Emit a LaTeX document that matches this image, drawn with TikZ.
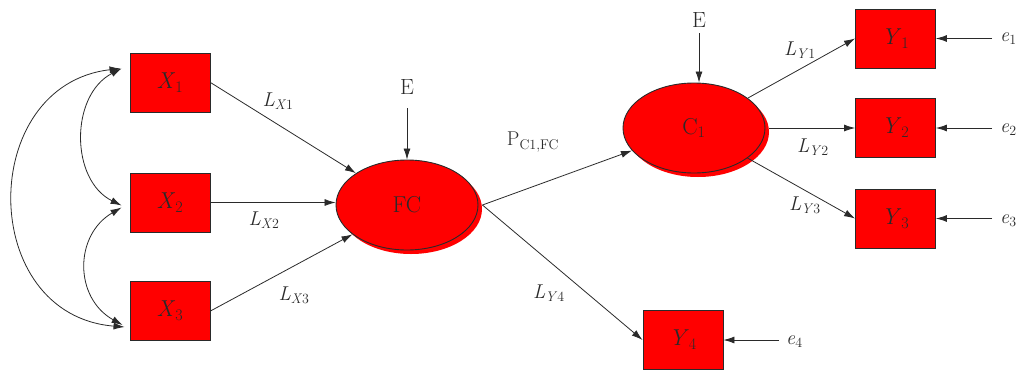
\documentclass[tikz,border=0pt]{standalone}
\usepackage{fontspec}
\usetikzlibrary{arrows.meta,shapes.geometric}
\definecolor{boxred}{HTML}{FF0000}
\definecolor{ink}{HTML}{2A2A2A}
\tikzset{
  obs/.style={draw=ink,line width=0.9pt,fill=boxred,minimum width=80pt,minimum height=59pt,inner sep=0pt,font=\fontsize{23}{26}\selectfont,text=ink},
  lat/.style={draw=ink,line width=0.9pt,fill=boxred,ellipse,minimum width=142pt,minimum height=90pt,inner sep=0pt,font=\fontsize{23}{26}\selectfont,text=ink},
  shad/.style={fill=boxred,ellipse,minimum width=142pt,minimum height=90pt,inner sep=0pt},
  lbl/.style={font=\fontsize{20}{24}\selectfont,text=ink,inner sep=1pt},
  arr/.style={draw=ink,line width=0.8pt,-{Latex[length=11pt,width=7pt]}},
  darr/.style={draw=ink,line width=0.8pt,{Latex[length=11pt,width=7pt]}-{Latex[length=11pt,width=7pt]}}
}
\begin{document}
\begin{tikzpicture}[x=1pt,y=-1pt]
\useasboundingbox (0,0) rectangle (1018,370);
% observed X
\node[obs] (X1) at (170,82.5) {\textit{X}\textsubscript{1}};
\node[obs] (X2) at (170,202.5) {\textit{X}\textsubscript{2}};
\node[obs] (X3) at (170,311) {\textit{X}\textsubscript{3}};
% latent
\node[shad] at (411,209) {};
\node[lat] (FC) at (407,205) {FC};
\node[shad] at (698,132) {};
\node[lat] (C1) at (694,128) {C\textsubscript{1}};
% Y boxes
\node[obs] (Y1) at (895.5,38.5) {\textit{Y}\textsubscript{1}};
\node[obs] (Y2) at (895.5,128) {\textit{Y}\textsubscript{2}};
\node[obs] (Y3) at (895.5,218.5) {\textit{Y}\textsubscript{3}};
\node[obs] (Y4) at (683,340) {\textit{Y}\textsubscript{4}};
% E and e
\node[lbl,font=\fontsize{22}{26}\selectfont] (E1) at (407,87) {E};
\node[lbl,font=\fontsize{22}{26}\selectfont] (E2) at (699,20) {E};
\node[lbl,anchor=west] (e1) at (999,39) {\textit{e}\textsubscript{1}};
\node[lbl,anchor=west] (e2) at (999,130) {\textit{e}\textsubscript{2}};
\node[lbl,anchor=west] (e3) at (999,221) {\textit{e}\textsubscript{3}};
\node[lbl,anchor=west] (e4) at (785,342) {\textit{e}\textsubscript{4}};
% free ends
\coordinate (E1s) at (407,108);
\coordinate (E2s) at (699,33);
\coordinate (e1s) at (992,38.5);
\coordinate (e2s) at (992,128);
\coordinate (e3s) at (992,218.5);
\coordinate (e4s) at (779,340);
% coordinates for curved arrows
\coordinate (a1) at ([shift={(-8,-14)}]X1.west);
\coordinate (b1) at ([shift={(-8,3)}]X2.west);
\coordinate (b2) at ([shift={(-8,5)}]X2.west);
\coordinate (c1) at ([shift={(-7,14)}]X3.west);
\coordinate (c2) at ([shift={(-5,16)}]X3.west);
\coordinate (a2) at ([shift={(-9,-14)}]X1.west);
\draw[darr] (a1) .. controls (70,95) and (70,180) .. (b1);
\draw[darr] (b2) .. controls (74,235) and (74,298) .. (c1);
\draw[darr] (a2) .. controls (-23,85) and (-23,315) .. (c2);
% paths
\draw[arr] (X1.east) -- (FC);
\draw[arr] (X2.east) -- (X2.east -| FC.west);
\draw[arr] (X3.east) -- (FC);
\draw[arr] ([xshift=4pt]FC.east) -- (C1);
\draw[arr] ([xshift=4pt]FC.east) -- (Y4.west);
\draw[arr] (C1) -- (Y1.west);
\draw[arr] ([xshift=4pt]C1.east) -- (Y2.west);
\draw[arr] (C1) -- (Y3.west);
\draw[arr] (E1s) -- (FC.north);
\draw[arr] (E2s) -- (E2s |- C1.north);
\draw[arr] (e1s) -- (Y1.east);
\draw[arr] (e2s) -- (Y2.east);
\draw[arr] (e3s) -- (Y3.east);
\draw[arr] (e4s) -- (Y4.east);
% labels
\node[lbl] (lx1) at (278,101) {\textit{L}\textsubscript{\textit{X}1}};
\node[lbl] (lx2) at (264,220) {\textit{L}\textsubscript{\textit{X}2}};
\node[lbl] (lx3) at (294,295) {\textit{L}\textsubscript{\textit{X}3}};
\node[lbl] (pc) at (533,142) {P\textsubscript{C1,FC}};
\node[lbl] (ly4) at (549,293) {\textit{L}\textsubscript{\textit{Y}4}};
\node[lbl] (ly1) at (800,50) {\textit{L}\textsubscript{\textit{Y}1}};
\node[lbl] (ly2) at (813,147) {\textit{L}\textsubscript{\textit{Y}2}};
\node[lbl] (ly3) at (805,205) {\textit{L}\textsubscript{\textit{Y}3}};
\end{tikzpicture}
\end{document}
